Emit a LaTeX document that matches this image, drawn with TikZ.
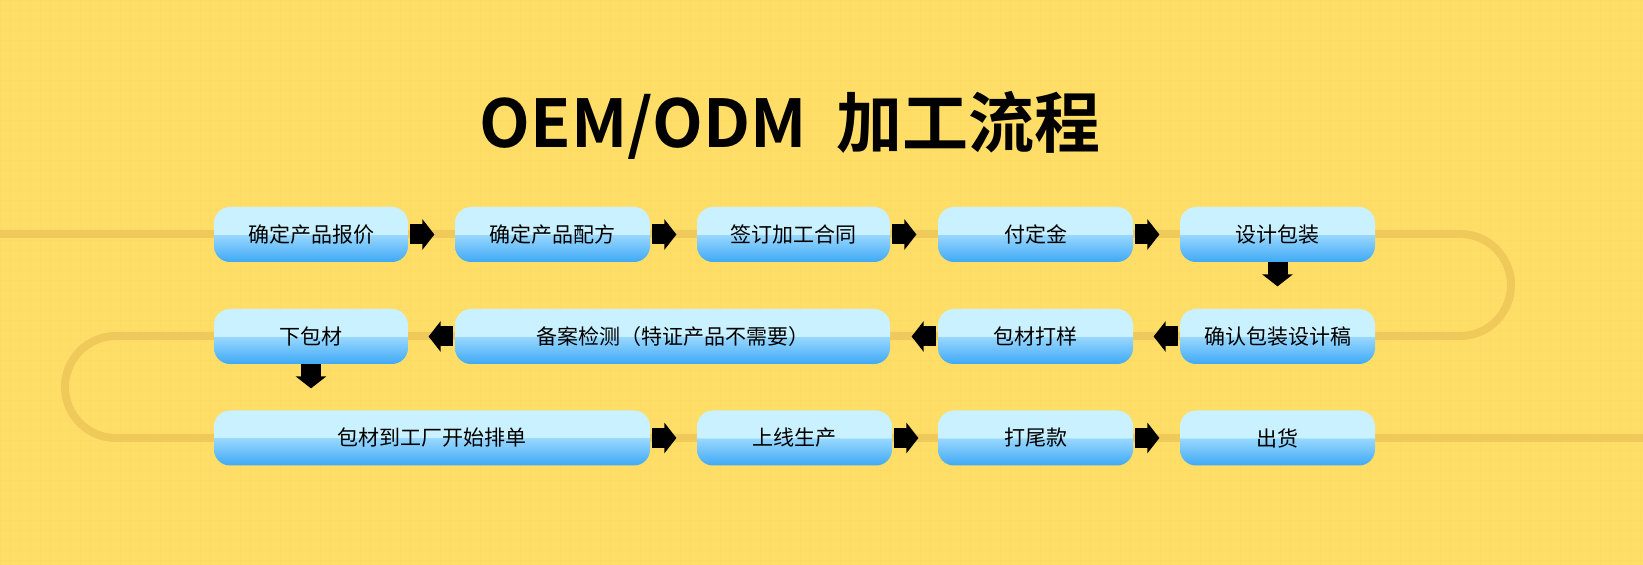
\documentclass[tikz,border=0pt]{standalone}
\usepackage{fontspec}
\setmainfont{Noto Sans CJK SC}
\newfontfamily\titlefont{Noto Sans CJK SC Bold}
\usetikzlibrary{arrows.meta}
\definecolor{bg}{HTML}{FFDE68}
\definecolor{track}{HTML}{EFC95A}
\definecolor{boxtop}{HTML}{C9F1FF}
\definecolor{boxmid}{HTML}{9AD8FF}
\definecolor{boxbot}{HTML}{3FA9F5}
\pgfdeclareverticalshading{boxshade}{100bp}{color(0bp)=(boxbot); color(25bp)=(boxbot); color(50bp)=(boxmid); color(50.01bp)=(boxtop); color(75bp)=(boxtop); color(100bp)=(boxtop)}
\tikzset{
  stepbox/.style={rounded corners=8pt, minimum height=27.5pt, inner sep=0pt, font=\fontsize{10.5pt}{12pt}\selectfont, text=black, shading=boxshade},
  flow/.style={line width=10pt, -{Triangle[length=6pt,width=15pt]}, black},
  trk/.style={track, line width=4pt, rounded corners=25.5pt}
}
\begin{document}
\begin{tikzpicture}[x=0.5pt,y=-0.5pt]
\fill[bg] (0,0) rectangle (1643,565);
\begin{scope}
\clip (0,0) rectangle (1643,565);
\foreach \g in {0,10,...,1640} {\draw[bg!96!black, line width=0.15pt, opacity=0.25] (\g,0) -- (\g,565);}
\foreach \g in {0,10,...,560} {\draw[bg!96!black, line width=0.15pt, opacity=0.25] (0,\g) -- (1643,\g);}
\draw[trk] (-10,234) -- (1511,234) -- (1511,336) -- (65,336) -- (65,438) -- (1653,438);
\end{scope}
\node[font=\titlefont\fontsize{33pt}{36pt}\selectfont] (title) at (790,125) {OEM/ODM\ \ 加工流程};
% row 1
\node[stepbox, minimum width=97pt] (a1) at (311,234.5) {确定产品报价};
\node[stepbox, minimum width=97.5pt] (a2) at (552.5,234.5) {确定产品配方};
\node[stepbox, minimum width=96.5pt] (a3) at (793.5,234.5) {签订加工合同};
\node[stepbox, minimum width=97.5pt] (a4) at (1035.5,234.5) {付定金};
\node[stepbox, minimum width=97.5pt] (a5) at (1277.5,234.5) {设计包装};
% row 2
\node[stepbox, minimum width=97.5pt] (b1) at (1277.5,336.5) {确认包装设计稿};
\node[stepbox, minimum width=97.5pt] (b2) at (1035.5,336.5) {包材打样};
\node[stepbox, minimum width=217.5pt] (b3) at (672.5,336.5) {备案检测（特证产品不需要）};
\node[stepbox, minimum width=97pt] (b4) at (311,336.5) {下包材};
% row 3
\node[stepbox, minimum width=218pt] (c1) at (432,438) {包材到工厂开始排单};
\node[stepbox, minimum width=97.5pt] (c2) at (794.5,438) {上线生产};
\node[stepbox, minimum width=97.5pt] (c3) at (1035.5,438) {打尾款};
\node[stepbox, minimum width=97.5pt] (c4) at (1277.5,438) {出货};
% arrows
\foreach \s in {a1,a2,a3,a4} {\draw[flow] ([xshift=1pt]\s.east) -- ++(24,0);}
\draw[flow] (a5.south) -- ++(0,24);
\foreach \s in {b1,b2,b3} {\draw[flow] ([xshift=-1pt]\s.west) -- ++(-24,0);}
\draw[flow] (b4.south) -- ++(0,24);
\foreach \s in {c1,c2,c3} {\draw[flow] ([xshift=1pt]\s.east) -- ++(24,0);}
\pgfresetboundingbox
\useasboundingbox (0,0) rectangle (1643,565);
\end{tikzpicture}
\end{document}
